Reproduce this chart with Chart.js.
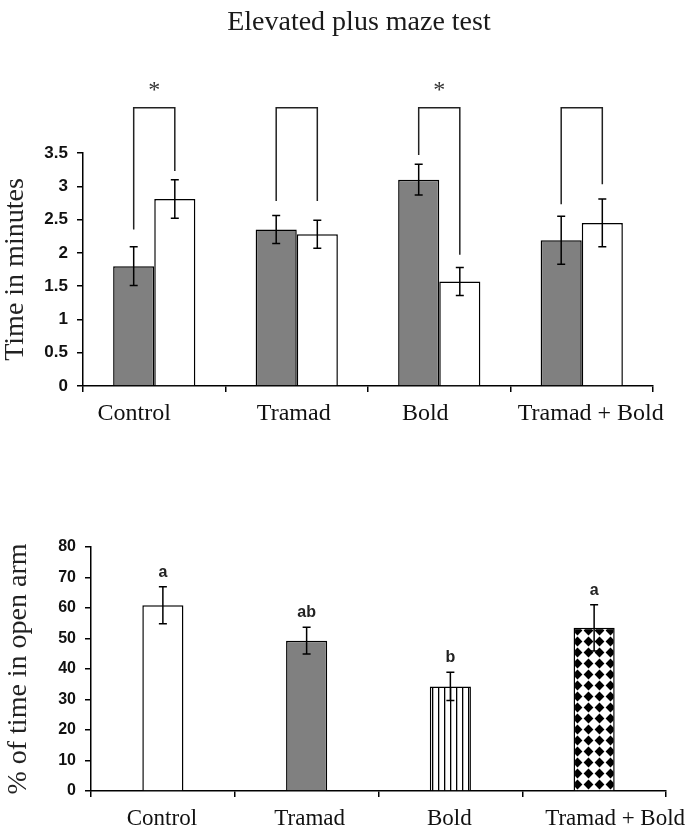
<!DOCTYPE html>
<html>
<head>
<meta charset="utf-8">
<script src="https://cdn.jsdelivr.net/npm/chart.js@4.4.0/dist/chart.umd.min.js"></script>
<style>
  body { margin: 0; background: #fff; }
  #wrap { position: relative; width: 685px; height: 829px; }
  #top { position: absolute; left: 0; top: 0; }
  #bottom { position: absolute; left: 0; top: 460px; }
</style>
</head>
<body>
<div id="wrap">
  <canvas id="top" width="685" height="440"></canvas>
  <canvas id="bottom" width="685" height="369"></canvas>
</div>
<script>
// data
var groups = ['Control', 'Tramad', 'Bold', 'Tramad + Bold'];
var timeTicks = [0, 0.5, 1, 1.5, 2, 2.5, 3, 3.5];
var greyTime = [1.80, 2.35, 3.10, 2.19];
var greyErr = [0.29, 0.21, 0.23, 0.36];
var whiteTime = [2.81, 2.28, 1.57, 2.45];
var whiteErr = [0.29, 0.21, 0.21, 0.36];
// comparison brackets (in axis units, above the 3.5 top)
var bracketTop = 4.18;
var greyLegEnd = [2.35, 2.78, 3.47, 2.73];
var whiteLegEnd = [3.23, 2.78, 1.97, 3.03];
var starred = [true, false, true, false];
var starLevel = 4.52;

var armTicks = [0, 10, 20, 30, 40, 50, 60, 70, 80];
var openArm = [60.9, 49.3, 34.3, 53.5];
var openArmErr = [6.1, 4.4, 4.6, 7.6];
var openArmLetters = ['a', 'ab', 'b', 'a'];

var SERIF = '"Liberation Serif", "Times New Roman", serif';
var SANS = '"Liberation Sans", Arial, sans-serif';

// the category labels in the figure are not quite centred (px nudges)
var topLabelShift = [-20, -3, -14, 9];
var bottomLabelShift = [-1, 3, -1, 21];

// fill patterns
function stripePattern() {
    var c = document.createElement('canvas');
    c.width = 6; c.height = 6;
    var g = c.getContext('2d');
    g.fillStyle = '#fff'; g.fillRect(0, 0, 6, 6);
    g.fillStyle = '#000'; g.fillRect(0, 0, 1.3, 6);
    return g.createPattern(c, 'repeat');
}
function diamondPattern() {
    var c = document.createElement('canvas');
    c.width = 11; c.height = 11;
    var g = c.getContext('2d');
    g.fillStyle = '#fff'; g.fillRect(0, 0, 11, 11);
    g.fillStyle = '#000';
    g.beginPath();
    g.moveTo(5.5, 0.6); g.lineTo(10.4, 5.5); g.lineTo(5.5, 10.4); g.lineTo(0.6, 5.5);
    g.closePath(); g.fill();
    return g.createPattern(c, 'repeat');
}

// error bars from dataset.errors
var errorBars = {
    id: 'errorBars',
    afterDatasetsDraw: function (chart) {
        var ctx = chart.ctx, ys = chart.scales.y;
        ctx.save();
        ctx.strokeStyle = '#000';
        ctx.lineWidth = 1.5;
        chart.data.datasets.forEach(function (ds, i) {
            chart.getDatasetMeta(i).data.forEach(function (bar, j) {
                var v = ds.data[j], e = ds.errors[j];
                var y1 = ys.getPixelForValue(v + e), y2 = ys.getPixelForValue(v - e);
                ctx.beginPath();
                ctx.moveTo(bar.x, y1); ctx.lineTo(bar.x, y2);
                ctx.moveTo(bar.x - 4, y1); ctx.lineTo(bar.x + 4, y1);
                ctx.moveTo(bar.x - 4, y2); ctx.lineTo(bar.x + 4, y2);
                ctx.stroke();
            });
        });
        ctx.restore();
    }
};

// category names under the x axis
var catLabels = {
    id: 'catLabels',
    afterDraw: function (chart, args, opts) {
        var ctx = chart.ctx, xs = chart.scales.x;
        ctx.save();
        ctx.fillStyle = '#111';
        ctx.font = opts.size + 'px ' + SERIF;
        ctx.textAlign = 'center';
        ctx.textBaseline = 'alphabetic';
        chart.data.labels.forEach(function (name, j) {
            ctx.fillText(name, xs.getPixelForTick(j) + opts.shift[j], xs.top + 34);
        });
        ctx.restore();
    }
};

// title, brackets + asterisks on the top chart
var brackets = {
    id: 'brackets',
    afterDraw: function (chart) {
        var ctx = chart.ctx, ys = chart.scales.y;
        var g = chart.getDatasetMeta(0).data, w = chart.getDatasetMeta(1).data;
        var top = ys.getPixelForValue(bracketTop);
        ctx.save();
        ctx.fillStyle = '#1a1a1a';
        ctx.font = '28px ' + SERIF;
        ctx.textAlign = 'center';
        ctx.textBaseline = 'alphabetic';
        ctx.fillText('Elevated plus maze test', chart.width * 0.524, 30);

        ctx.strokeStyle = '#222';
        ctx.lineWidth = 1.5;
        groups.forEach(function (name, j) {
            ctx.beginPath();
            ctx.moveTo(g[j].x, ys.getPixelForValue(greyLegEnd[j]));
            ctx.lineTo(g[j].x, top);
            ctx.lineTo(w[j].x, top);
            ctx.lineTo(w[j].x, ys.getPixelForValue(whiteLegEnd[j]));
            ctx.stroke();
            if (starred[j]) {
                ctx.fillStyle = '#333';
                ctx.font = '24px ' + SERIF;
                ctx.fillText('*', (g[j].x + w[j].x) / 2, ys.getPixelForValue(starLevel) + 12);
            }
        });
        ctx.restore();
    }
};

// letters over the bottom bars
var letters = {
    id: 'letters',
    afterDraw: function (chart) {
        var ctx = chart.ctx, ys = chart.scales.y;
        ctx.save();
        ctx.fillStyle = '#222';
        ctx.font = 'bold 16px ' + SANS;
        ctx.textAlign = 'center';
        ctx.textBaseline = 'alphabetic';
        chart.getDatasetMeta(0).data.forEach(function (bar, j) {
            var yTop = ys.getPixelForValue(openArm[j] + openArmErr[j]);
            ctx.fillText(openArmLetters[j], bar.x, yTop - 10);
        });
        ctx.restore();
    }
};

function plainTick(v) { return String(v); }

// TOP CHART ( time in minutes, two bars per group )
var chart1 = new Chart(document.getElementById('top').getContext('2d'), {
    type: 'bar',
    data: {
        labels: groups,
        datasets: [{
            data: greyTime,
            errors: greyErr,
            backgroundColor: '#808080',
            borderColor: '#000',
            borderWidth: 1.5,
            categoryPercentage: 0.577,
            barPercentage: 1
        }, {
            data: whiteTime,
            errors: whiteErr,
            backgroundColor: '#fff',
            borderColor: '#000',
            borderWidth: 1.5,
            categoryPercentage: 0.577,
            barPercentage: 1
        }]
    },
    options: {
        responsive: false,
        animation: false,
        layout: { padding: { left: 0, right: 32, top: 153, bottom: 0 } },
        plugins: {
            legend: { display: false },
            tooltip: { enabled: false },
            catLabels: { size: 24, shift: topLabelShift }
        },
        scales: {
            x: {
                grid: { drawOnChartArea: false, color: '#000', lineWidth: 1.5, tickLength: 6, offset: true },
                border: { color: '#000', width: 1.5 },
                ticks: { display: false },
                afterFit: function (s) { s.height = 54; }
            },
            y: {
                min: 0,
                max: 3.5,
                afterBuildTicks: function (s) { s.ticks = timeTicks.map(function (v) { return { value: v }; }); },
                grid: { drawOnChartArea: false, color: '#000', lineWidth: 1.5, tickLength: 6 },
                border: { color: '#000', width: 1.5 },
                ticks: { color: '#111', font: { family: SANS, size: 17, weight: 'bold' }, padding: 9, callback: plainTick },
                title: {
                    display: true,
                    text: 'Time in minutes',
                    color: '#222',
                    font: { family: SERIF, size: 28, lineHeight: 1 },
                    padding: { top: 2, bottom: 0 }
                },
                afterFit: function (s) { s.width = 83; }
            }
        }
    },
    plugins: [errorBars, brackets, catLabels]
});

// BOTTOM CHART ( % of time in open arm )
var chart2 = new Chart(document.getElementById('bottom').getContext('2d'), {
    type: 'bar',
    data: {
        labels: groups,
        datasets: [{
            data: openArm,
            errors: openArmErr,
            backgroundColor: ['#fff', '#808080', stripePattern(), diamondPattern()],
            borderColor: '#000',
            borderWidth: 1.5,
            categoryPercentage: 0.286,
            barPercentage: 1
        }]
    },
    options: {
        responsive: false,
        animation: false,
        layout: { padding: { left: 0, right: 19, top: 87, bottom: 0 } },
        plugins: {
            legend: { display: false },
            tooltip: { enabled: false },
            catLabels: { size: 23, shift: bottomLabelShift }
        },
        scales: {
            x: {
                grid: { drawOnChartArea: false, color: '#000', lineWidth: 1.5, tickLength: 6, offset: true },
                border: { color: '#000', width: 1.5 },
                ticks: { display: false },
                afterFit: function (s) { s.height = 38; }
            },
            y: {
                min: 0,
                max: 80,
                afterBuildTicks: function (s) { s.ticks = armTicks.map(function (v) { return { value: v }; }); },
                grid: { drawOnChartArea: false, color: '#000', lineWidth: 1.5, tickLength: 6 },
                border: { color: '#000', width: 1.5 },
                ticks: { color: '#111', font: { family: SANS, size: 16, weight: 'bold' }, padding: 9, callback: plainTick },
                title: {
                    display: true,
                    text: '% of time in open arm',
                    color: '#222',
                    font: { family: SERIF, size: 28, lineHeight: 1 },
                    padding: { top: 5, bottom: 0 }
                },
                afterFit: function (s) { s.width = 91; }
            }
        }
    },
    plugins: [errorBars, letters, catLabels]
});
</script>
</body>
</html>
